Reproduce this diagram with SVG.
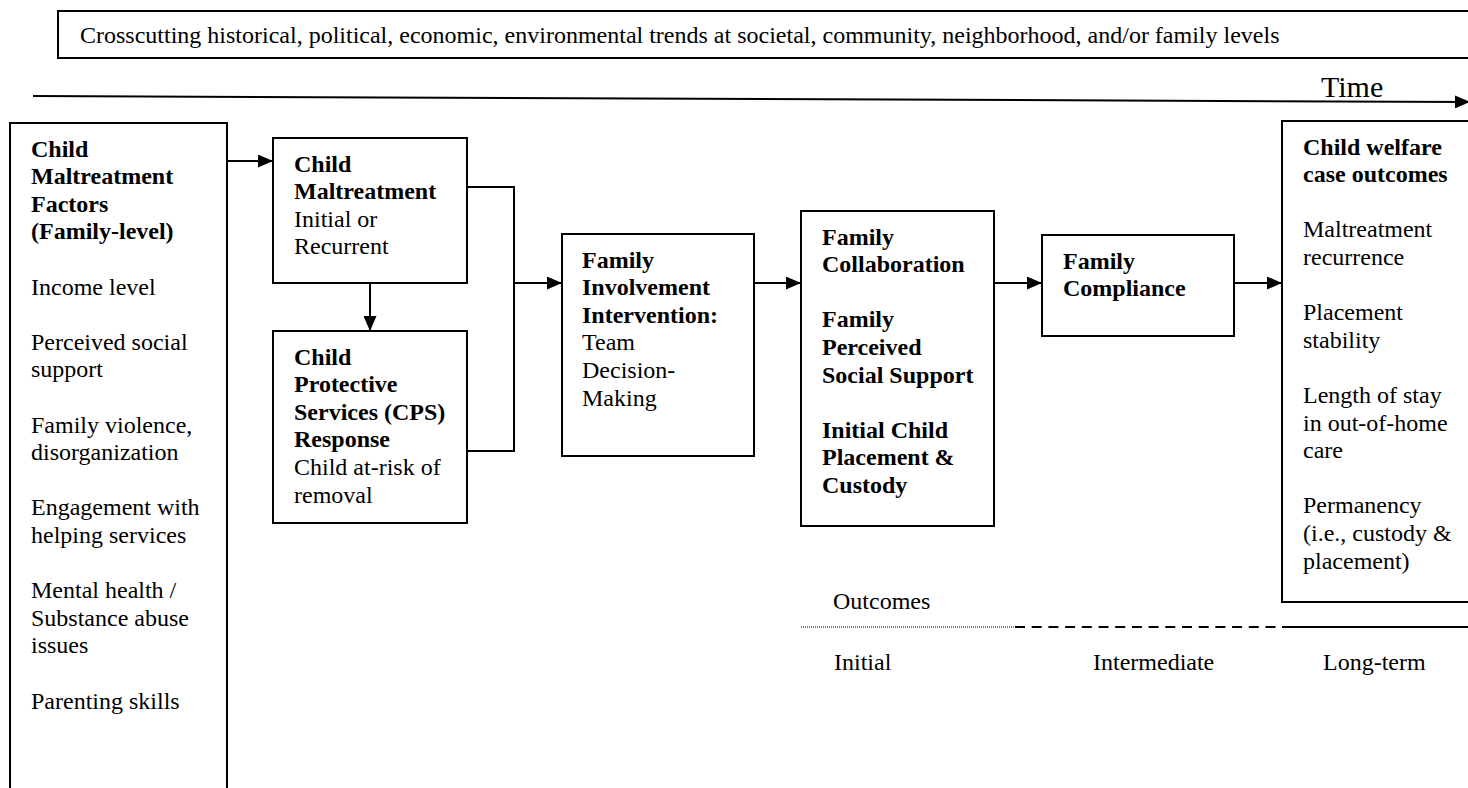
<svg xmlns="http://www.w3.org/2000/svg" width="1468" height="788" viewBox="0 0 1468 788">
<defs>
<marker id="ah" markerUnits="userSpaceOnUse" markerWidth="15" markerHeight="13" refX="15" refY="6.5" orient="auto">
<path d="M0,0 L15,6.5 L0,13 z" fill="#000"/>
</marker>
<style>
.box{fill:#fff;stroke:#000;stroke-width:2}
.t{font-family:"Liberation Serif","Times New Roman",serif;font-size:24px;fill:#000}
.b{font-weight:bold}
.con{fill:none;stroke:#000;stroke-width:2}
</style>
</defs>
<rect width="1468" height="788" fill="#fff"/>

<g id="context">
<path class="con" d="M1470,11 H58 V58 H1470"/>
<text class="t" x="80" y="43">Crosscutting historical, political, economic, environmental trends at societal, community, neighborhood, and/or family levels</text>
</g>

<g id="time">
<line class="con" x1="33" y1="96" x2="1470" y2="102" marker-end="url(#ah)"/>
<text class="t" x="1321" y="97" style="font-size:30px">Time</text>
</g>

<g id="factors">
<path class="box" d="M10,800 V123 H227 V800"/>
<text class="t b" x="31" y="156.5">Child</text>
<text class="t b" x="31" y="184.1">Maltreatment</text>
<text class="t b" x="31" y="211.7">Factors</text>
<text class="t b" x="31" y="239.3">(Family-level)</text>
<text class="t" x="31" y="294.5">Income level</text>
<text class="t" x="31" y="349.7">Perceived social</text>
<text class="t" x="31" y="377.3">support</text>
<text class="t" x="31" y="432.5">Family violence,</text>
<text class="t" x="31" y="460.1">disorganization</text>
<text class="t" x="31" y="515.3">Engagement with</text>
<text class="t" x="31" y="542.9">helping services</text>
<text class="t" x="31" y="598.1">Mental health /</text>
<text class="t" x="31" y="625.7">Substance abuse</text>
<text class="t" x="31" y="653.3">issues</text>
<text class="t" x="31" y="708.5">Parenting skills</text>
</g>

<g id="maltreatment">
<rect class="box" x="273" y="138" width="194" height="145"/>
<text class="t b" x="294" y="171.5">Child</text>
<text class="t b" x="294" y="199.1">Maltreatment</text>
<text class="t" x="294" y="226.7">Initial or</text>
<text class="t" x="294" y="254.3">Recurrent</text>
</g>

<g id="cps">
<rect class="box" x="273" y="331" width="194" height="192"/>
<text class="t b" x="294" y="364.5">Child</text>
<text class="t b" x="294" y="392.1">Protective</text>
<text class="t b" x="294" y="419.7">Services (CPS)</text>
<text class="t b" x="294" y="447.3">Response</text>
<text class="t" x="294" y="474.9">Child at-risk of</text>
<text class="t" x="294" y="502.5">removal</text>
</g>

<g id="involvement">
<rect class="box" x="562" y="234" width="192" height="222"/>
<text class="t b" x="582" y="267.5">Family</text>
<text class="t b" x="582" y="295.1">Involvement</text>
<text class="t b" x="582" y="322.7">Intervention:</text>
<text class="t" x="582" y="350.3">Team</text>
<text class="t" x="582" y="377.9">Decision-</text>
<text class="t" x="582" y="405.5">Making</text>
</g>

<g id="collaboration">
<rect class="box" x="801" y="211" width="193" height="315"/>
<text class="t b" x="822" y="244.5">Family</text>
<text class="t b" x="822" y="272.1">Collaboration</text>
<text class="t b" x="822" y="327.3">Family</text>
<text class="t b" x="822" y="354.9">Perceived</text>
<text class="t b" x="822" y="382.5">Social Support</text>
<text class="t b" x="822" y="437.7">Initial Child</text>
<text class="t b" x="822" y="465.3">Placement &amp;</text>
<text class="t b" x="822" y="492.9">Custody</text>
</g>

<g id="compliance">
<rect class="box" x="1042" y="235" width="192" height="101"/>
<text class="t b" x="1063" y="268.5">Family</text>
<text class="t b" x="1063" y="296.1">Compliance</text>
</g>

<g id="welfare">
<path class="box" d="M1470,121 H1282 V602 H1470"/>
<text class="t b" x="1303" y="154.5">Child welfare</text>
<text class="t b" x="1303" y="182.1">case outcomes</text>
<text class="t" x="1303" y="237.3">Maltreatment</text>
<text class="t" x="1303" y="264.9">recurrence</text>
<text class="t" x="1303" y="320.1">Placement</text>
<text class="t" x="1303" y="347.7">stability</text>
<text class="t" x="1303" y="402.9">Length of stay</text>
<text class="t" x="1303" y="430.5">in out-of-home</text>
<text class="t" x="1303" y="458.1">care</text>
<text class="t" x="1303" y="513.3">Permanency</text>
<text class="t" x="1303" y="540.9">(i.e., custody &amp;</text>
<text class="t" x="1303" y="568.5">placement)</text>
</g>

<g id="outcomes-scale">
<text class="t" x="833" y="609">Outcomes</text>
<line x1="801" y1="627" x2="1015" y2="627" stroke="#000" stroke-width="1" stroke-dasharray="1 1"/>
<line x1="1015" y1="627" x2="1282" y2="627" stroke="#000" stroke-width="2" stroke-dasharray="10 6.7"/>
<line x1="1282" y1="627" x2="1468" y2="627" stroke="#000" stroke-width="2"/>
<text class="t" x="834" y="670">Initial</text>
<text class="t" x="1093" y="670">Intermediate</text>
<text class="t" x="1323" y="670">Long-term</text>
</g>

<g id="connectors">
<line class="con" x1="227" y1="161" x2="273" y2="161" marker-end="url(#ah)"/>
<line class="con" x1="370" y1="283" x2="370" y2="331" marker-end="url(#ah)"/>
<path class="con" d="M467,187 H514 V451 H467"/>
<line class="con" x1="514" y1="283" x2="562" y2="283" marker-end="url(#ah)"/>
<line class="con" x1="754" y1="283" x2="801" y2="283" marker-end="url(#ah)"/>
<line class="con" x1="994" y1="283" x2="1042" y2="283" marker-end="url(#ah)"/>
<line class="con" x1="1234" y1="283" x2="1282" y2="283" marker-end="url(#ah)"/>
</g>
</svg>
